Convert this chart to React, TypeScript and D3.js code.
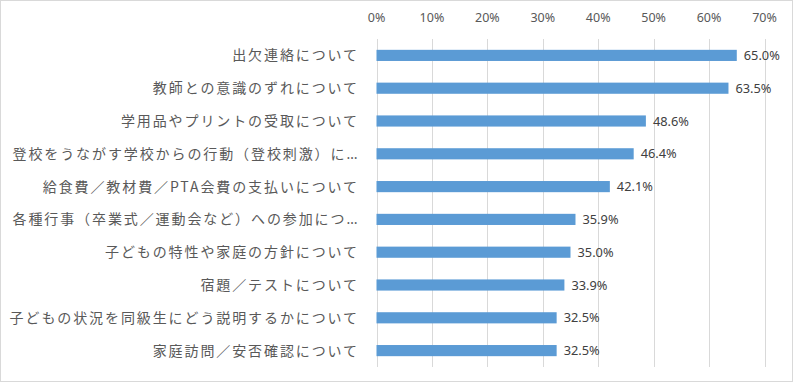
import React from "react";
import * as d3 from "d3";

const categories = [
  "出欠連絡について",
  "教師との意識のずれについて",
  "学用品やプリントの受取について",
  "登校をうながす学校からの行動（登校刺激）に…",
  "給食費／教材費／PTA会費の支払いについて",
  "各種行事（卒業式／運動会など）への参加につ…",
  "子どもの特性や家庭の方針について",
  "宿題／テストについて",
  "子どもの状況を同級生にどう説明するかについて",
  "家庭訪問／安否確認について",
];
const values = [65.0, 63.5, 48.6, 46.4, 42.1, 35.9, 35.0, 33.9, 32.5, 32.5];
const ticks = [0, 10, 20, 30, 40, 50, 60, 70];

const W = 793;
const H = 382;
const M = { left: 376.5, right: 28.5, top: 39, bottom: 15 };

export default function App() {
  const x = d3.scaleLinear().domain([0, 70]).range([M.left, W - M.right]);
  const y = d3
    .scaleBand<string>()
    .domain(categories)
    .range([M.top, H - M.bottom])
    .paddingInner(0.66)
    .paddingOuter(0.33);
  const band = d3.scaleBand<string>().domain(categories).range([M.top, H - M.bottom]);
  const textColor = "#595959";
  const jp = "'Noto Sans CJK JP', 'Noto Sans', sans-serif";
  return (
    <svg
      width={W}
      height={H}
      style={{ position: "absolute", left: 0, top: 0, display: "block", background: "#fff" }}
    >
      <rect x={0.5} y={0.5} width={W - 1} height={H - 1} fill="#fff" stroke="#d9d9d9" />
      {ticks.map((t) => (
        <g key={t}>
          <line
            x1={Math.round(x(t)) + 0.5}
            x2={Math.round(x(t)) + 0.5}
            y1={M.top}
            y2={H - M.bottom}
            stroke="#d9d9d9"
            strokeWidth={1}
          />
          <text
            x={x(t)}
            y={22}
            textAnchor="middle"
            fontSize={12.5}
            fill={textColor}
            fontFamily="'Noto Sans', sans-serif"
          >
            {t}%
          </text>
        </g>
      ))}
      {categories.map((c, i) => {
        const cy = (band(c) as number) + band.bandwidth() / 2;
        const ell = c.endsWith("…");
        const main = ell ? c.slice(0, -1) : c;
        return (
          <g key={c}>
            <rect
              x={x(0)}
              y={y(c) as number}
              width={x(values[i]) - x(0)}
              height={y.bandwidth()}
              fill="#5B9BD5"
            />
            <text
              x={359}
              y={cy}
              dy="0.36em"
              textAnchor="end"
              fontSize={14}
              letterSpacing={1.9}
              fill={textColor}
              fontFamily={jp}
            >
              {main}
              {ell && (
                <tspan fontFamily="'Noto Sans', sans-serif" letterSpacing={1.5}>
                  …
                </tspan>
              )}
            </text>
            <text
              x={x(values[i]) + 7}
              y={cy}
              dy="0.36em"
              fontSize={12.8}
              fill="#404040"
              fontFamily="'Noto Sans', sans-serif"
            >
              {values[i].toFixed(1)}%
            </text>
          </g>
        );
      })}
    </svg>
  );
}
